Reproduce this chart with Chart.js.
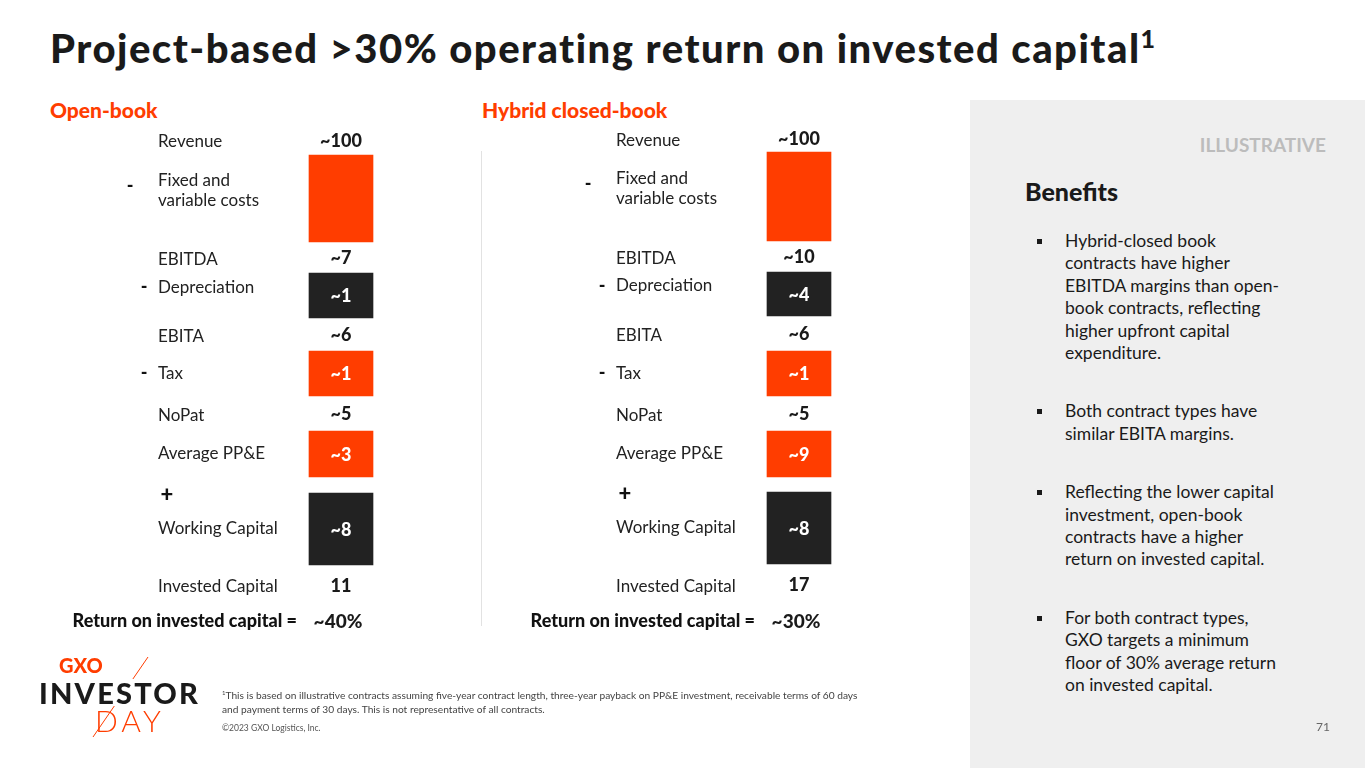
<!DOCTYPE html>
<html>
<head>
<meta charset="utf-8">
<script src="https://cdn.jsdelivr.net/npm/chart.js@4.4.0/dist/chart.umd.min.js"></script>
<style>
    body { margin: 0; width: 1365px; height: 768px; overflow: hidden; background: #fff; font-family: Lato, "Noto Sans", sans-serif; color: #1a1a1a; position: relative; }
    .abs { position: absolute; white-space: nowrap; }
    #side { position: absolute; left: 970px; top: 100px; width: 395px; height: 668px; background: #efefef; }
    #title { left: 50px; top: 25px; font-size: 40px; font-weight: 900; line-height: 46px; letter-spacing: 1.5px; }
    #title sup { font-size: 25px; vertical-align: 15px; line-height: 0; }
    .head { top: 97px; font-size: 21px; font-weight: 900; color: #ff3d00; line-height: 26px; }
    #sep { position: absolute; left: 481px; top: 151px; width: 1px; height: 475px; background: #e2e2e2; }
    #illus { right: 39px; top: 133px; font-size: 19px; font-weight: 700; color: #bcbcbc; line-height: 24px; }
    #benefits { left: 1025px; top: 175px; font-size: 25px; font-weight: 900; line-height: 32px; }
    ul.bl { position: absolute; left: 1037px; top: 230px; margin: 0; padding: 0; list-style: none; font-size: 17.5px; line-height: 22.4px; color: #1a1a1a; }
    ul.bl li { position: relative; padding-left: 28px; margin-bottom: 36px; white-space: nowrap; }
    ul.bl li::before { content: ""; position: absolute; left: 0; top: 9px; width: 5px; height: 5px; background: #1a1a1a; }
    #chartWrap { position: absolute; left: 0; top: 0; width: 1365px; height: 768px; }
    #foot { left: 222px; top: 686px; font-size: 10.2px; line-height: 13.5px; color: #444; }
    #copy { left: 222px; top: 723px; font-size: 8.5px; color: #555; }
    #page { left: 1316px; top: 719px; font-size: 12px; color: #666; }
    #gxo { left: 59px; top: 654px; font-size: 20px; font-weight: 900; color: #ff3d00; line-height: 22px; }
    #inv { left: 39px; top: 679px; font-size: 29px; font-weight: 900; letter-spacing: 2.2px; line-height: 27px; background: #fff; }
    #day { left: 95px; top: 704px; font-size: 30px; font-weight: 300; color: #ff3d00; line-height: 32px; letter-spacing: 4px; }
</style>
</head>
<body>
<div id="side"></div>
<div id="sep"></div>
<div class="abs" id="title">Project-based &gt;30% operating return on invested capital<sup>1</sup></div>
<div class="abs head" style="left:50px">Open-book</div>
<div class="abs head" style="left:482px">Hybrid closed-book</div>
<div class="abs" id="illus">ILLUSTRATIVE</div>
<div class="abs" id="benefits">Benefits</div>
<ul class="bl">
    <li>Hybrid-closed book<br>contracts have higher<br>EBITDA margins than open-<br>book contracts, reflecting<br>higher upfront capital<br>expenditure.</li>
    <li>Both contract types have<br>similar EBITA margins.</li>
    <li>Reflecting the lower capital<br>investment, open-book<br>contracts have a higher<br>return on invested capital.</li>
    <li>For both contract types,<br>GXO targets a minimum<br>floor of 30% average return<br>on invested capital.</li>
</ul>
<div id="chartWrap"><canvas id="roic"></canvas></div>
<svg class="abs" style="left:0;top:0" width="300" height="768"><line x1="148" y1="657" x2="93" y2="737" stroke="#ff3d00" stroke-width="1"/></svg>
<div class="abs" id="gxo">GXO</div>
<div class="abs" id="inv">INVESTOR</div>
<div class="abs" id="day">DAY</div>
<div class="abs" id="foot"><sup style="font-size:6px">1</sup>This is based on illustrative contracts assuming five-year contract length, three-year payback on PP&amp;E investment, receivable terms of 60 days<br>and payment terms of 30 days. This is not representative of all contracts.</div>
<div class="abs" id="copy">©2023 GXO Logistics, Inc.</div>
<div class="abs" id="page">71</div>
<script>
// Panels (x categories)
const panels = ['Open-book', 'Hybrid closed-book'];

// Rows of the waterfall, top to bottom
const rowLabels = ['Revenue', 'Fixed and\nvariable costs', 'EBITDA', 'Depreciation', 'EBITA', 'Tax', 'NoPat', 'Average PP&E', '', 'Working Capital', 'Invested Capital', 'Return on invested capital ='];
const rowSigns = ['', '-', '', '-', '', '-', '', '', '+', '', '', ''];
const rowIsBox = [false, true, false, true, false, true, false, true, false, true, false, false];
const rowColors = ['', '#ff3d00', '', '#222222', '', '#ff3d00', '', '#ff3d00', '', '#222222', '', ''];

// Value labels per panel
const openBookValues = ['~100', '', '~7', '~1', '~6', '~1', '~5', '~3', '', '~8', '11', '~40%'];
const hybridValues = ['~100', '', '~10', '~4', '~6', '~1', '~5', '~9', '', '~8', '17', '~30%'];

// Illustrative block heights (not to scale) per row
const openBookBlocks = [30, 87, 31, 45, 33, 45, 35, 46, 16, 72, 40, 32];
const hybridBlocks = [27, 89, 31, 44, 35, 45, 35, 46, 15, 72, 41, 32];

const panelValues = [openBookValues, hybridValues];

const datasets = rowLabels.map((label, i) => ({
    label: label,
    data: [openBookBlocks[i], hybridBlocks[i]],
    backgroundColor: rowIsBox[i] ? rowColors[i] : 'rgba(0,0,0,0)',
    barThickness: 64,
    borderWidth: 0
}));

// draw row names, signs and values
const rowText = {
    id: 'rowText',
    afterDatasetsDraw(chart) {
        const ctx = chart.ctx;
        ctx.save();
        ctx.textBaseline = 'middle';
        chart.data.datasets.forEach((ds, i) => {
            const meta = chart.getDatasetMeta(i);
            meta.data.forEach((bar, j) => {
                const cx = bar.x;
                const cy = (bar.y + bar.base) / 2;
                const value = panelValues[j][i];
                const last = i === rowLabels.length - 1;

                // value
                if (value) {
                    ctx.textAlign = 'center';
                    ctx.font = last ? '900 19px Lato' : '900 18px Lato';
                    ctx.fillStyle = rowIsBox[i] ? '#ffffff' : '#1a1a1a';
                    ctx.fillText(value, cx - (last ? 3 : 0), cy + 1);
                }

                // row label
                if (last) {
                    ctx.textAlign = 'right';
                    ctx.font = '900 18px Lato';
                    ctx.fillStyle = '#111';
                    ctx.fillText(rowLabels[i], cx - 44, cy);
                } else if (rowLabels[i]) {
                    ctx.textAlign = 'left';
                    ctx.font = '400 17px Lato';
                    ctx.fillStyle = '#222';
                    const lines = rowLabels[i].split('\n');
                    const off = (i === 1 || i === 3) ? -8 : (rowIsBox[i] ? 0 : 2);
                    lines.forEach((ln, k) => {
                        ctx.fillText(ln, cx - 183, cy + off + (k - (lines.length - 1) / 2) * 20);
                    });
                }

                // sign
                if (rowSigns[i] === '-') {
                    ctx.textAlign = 'center';
                    ctx.font = '900 18px Lato';
                    ctx.fillStyle = '#111';
                    const dx = i === 1 ? -211 : -197;
                    const dy = i === 1 ? -12 : (i === 3 ? -8 : 0);
                    ctx.fillText('-', cx + dx, cy + dy);
                } else if (rowSigns[i] === '+') {
                    ctx.textAlign = 'center';
                    ctx.font = '900 22px Lato';
                    ctx.fillStyle = '#111';
                    ctx.fillText('+', cx - 174, Math.max(bar.base, bar.y) + 2);
                }
            });
        });
        ctx.restore();
    }
};

new Chart(document.getElementById('roic').getContext('2d'), {
    type: 'bar',
    data: { labels: panels, datasets: datasets },
    options: {
        responsive: true,
        maintainAspectRatio: false,
        animation: false,
        layout: { padding: { left: 112, right: 337, top: 125, bottom: 131 } },
        scales: {
            x: { stacked: true, display: false },
            y: { stacked: true, display: false, reverse: true, min: 0, max: 512 }
        },
        plugins: {
            legend: { display: false },
            tooltip: { enabled: false }
        }
    },
    plugins: [rowText]
});
</script>
</body>
</html>
